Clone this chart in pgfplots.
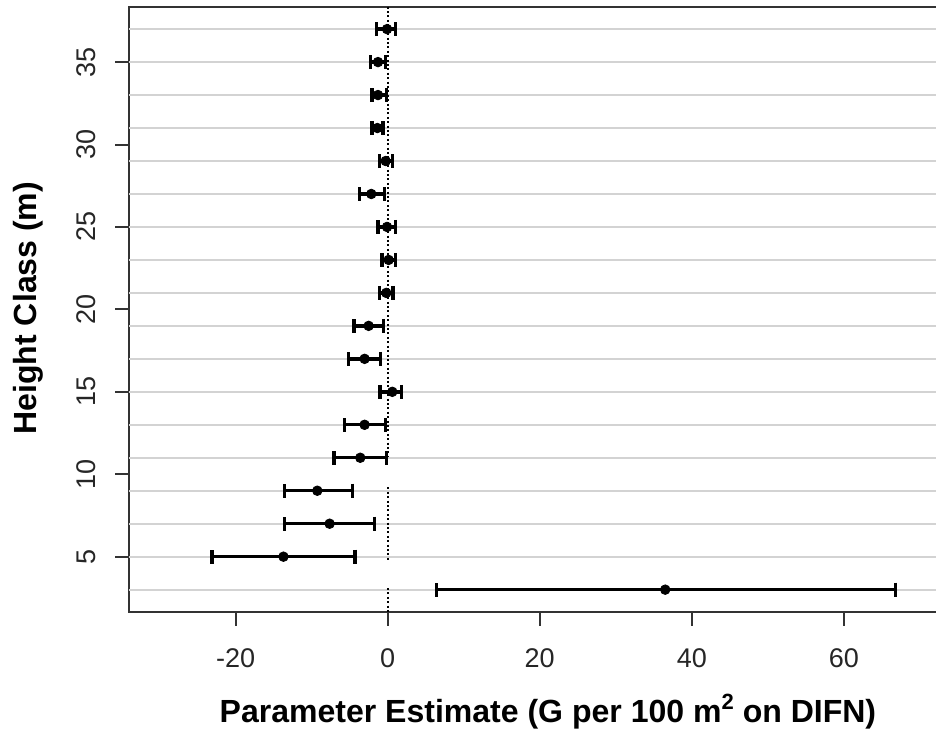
\documentclass[border=0pt]{standalone}
\usepackage{fontspec}
\setmainfont{Liberation Sans}
\usepackage{pgfplots}
\pgfplotsset{compat=1.18}
\definecolor{gridgray}{HTML}{D3D3D3}
\pgfplotstableread{
y x ep em
37 -0.08 1.09 1.41
35 -1.27 1.01 1.01
33 -1.27 1.09 0.79
31 -1.35 0.74 0.71
29 -0.26 0.87 0.79
27 -2.15 1.76 1.53
25 -0.08 1.09 1.19
23 0.13 0.88 0.88
21 -0.18 0.88 0.87
19 -2.50 1.97 1.92
17 -3.03 2.11 2.10
15 0.61 1.19 1.62
13 -3.03 2.77 2.63
11 -3.60 3.47 3.46
9 -9.25 4.60 4.30
7 -7.63 5.92 5.92
5 -13.70 9.40 9.40
3 36.50 30.30 30.05
}\estimates
\begin{document}
\begin{tikzpicture}
\begin{axis}[
  scale only axis,
  width=410.4pt, height=302.5pt,
  xmin=-34, xmax=74, ymin=1.64, ymax=38.36,
  xtick={-20,0,20,40,60},
  ytick={5,10,...,35},
  extra y ticks={3,5,7,9,11,13,15,17,19,21,23,25,27,29,31,33,35,37},
  extra y tick labels={},
  extra y tick style={grid=major, major tick length=0pt},
  major grid style={gridgray, line width=1pt},
  tick align=outside,
  major tick length=6.8pt,
  xtick pos=bottom, ytick pos=left,
  every tick/.style={black!80, line width=1pt},
  axis line style={black!80, line width=1pt},
  ticklabel style={font=\fontsize{13.5}{15}\selectfont, text=black!85},
  /pgf/number format/assume math mode=true,
  xticklabel style={anchor=base, yshift=-20.7pt},
  yticklabel style={xshift=-10.2pt, rotate=90, anchor=base},
  xlabel={Parameter Estimate (G per 100 m\raisebox{0.42em}{\fontsize{11}{11}\selectfont 2} on DIFN)},
  ylabel={Height Class (m)},
  label style={font=\fontsize{16}{19}\selectfont\bfseries},
  xlabel style={at={(axis description cs:0.51,-0.183)}, anchor=base},
  ylabel style={at={(axis description cs:-0.113,0.502)}, anchor=base, rotate=0},
]
\addplot[black, line width=1pt, dash pattern=on 1pt off 1.2pt] coordinates {(0,38.36) (0,11.05)};
\addplot[black, line width=1pt, dash pattern=on 1pt off 1.2pt] coordinates {(0,9.2) (0,4.7)};
\addplot[black, line width=1pt, dash pattern=on 1pt off 1.2pt] coordinates {(0,3.1) (0,1.64)};
\addplot[only marks, mark=*, mark size=2.4pt, black,
  error bars/.cd, x dir=both, x explicit,
  error mark=|,
  error bar style={line width=1.7pt, black},
  error mark options={line width=1.7pt, mark size=3.5pt, black}]
  table[x=x, y=y, x error plus=ep, x error minus=em] {\estimates};
\end{axis}
\pgfresetboundingbox
\path ([xshift=-64.5pt,yshift=-60.15pt]current axis.south west) rectangle ([xshift=-7.2pt,yshift=3.35pt]current axis.north east);
\end{tikzpicture}
\end{document}
